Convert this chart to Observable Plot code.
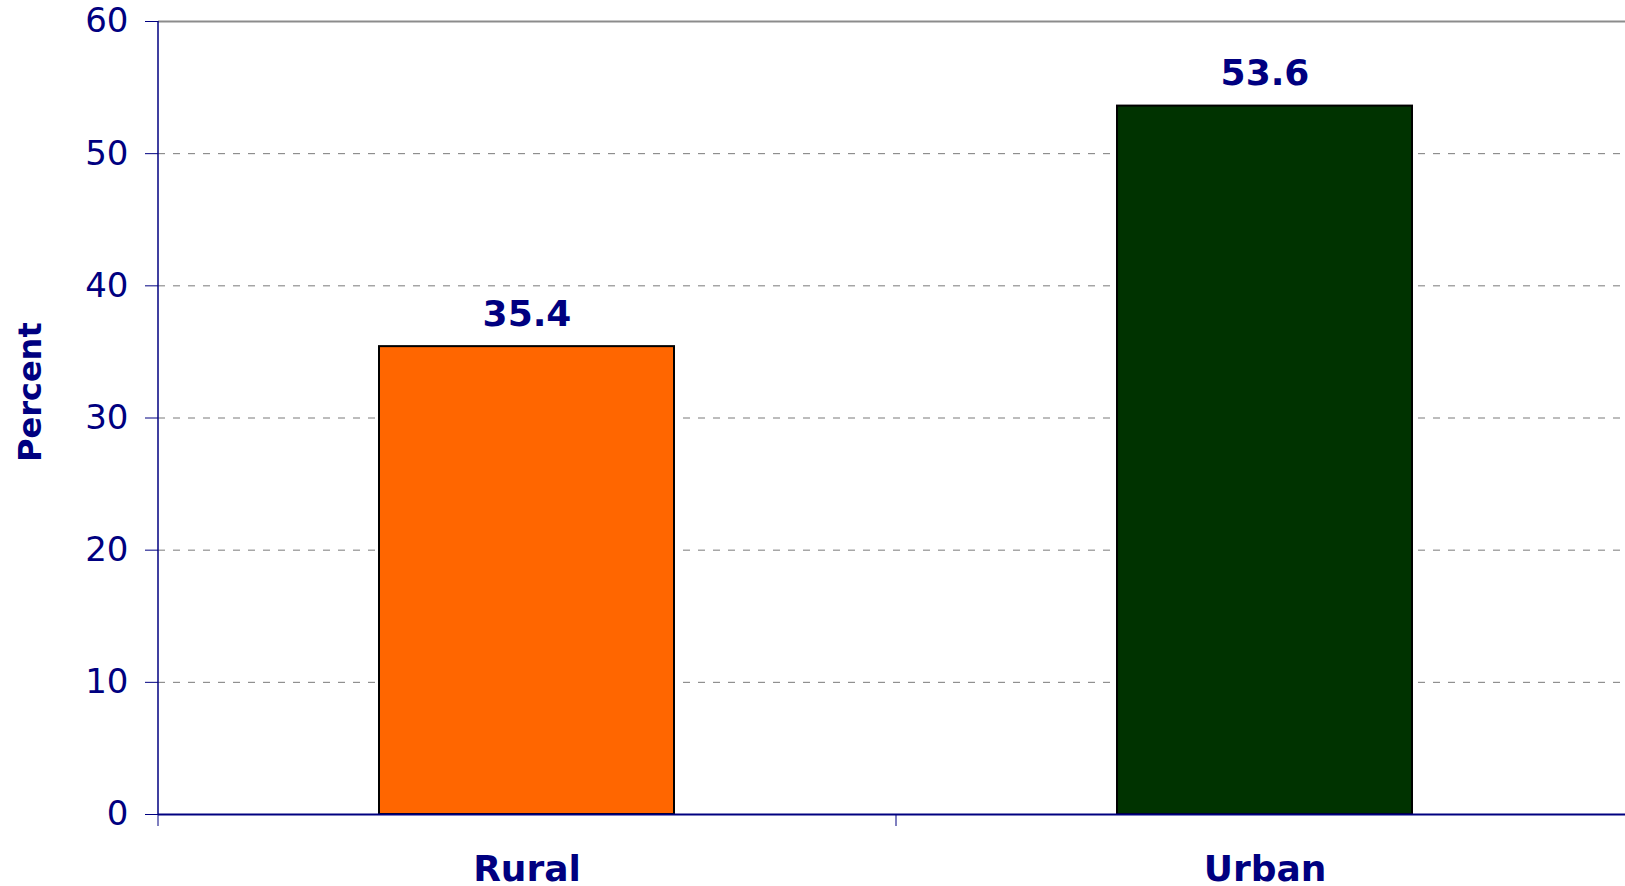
<!DOCTYPE html>
<html>
<head>
<meta charset="utf-8">
<script src="https://cdn.jsdelivr.net/npm/d3@7"></script>
<script src="https://cdn.jsdelivr.net/npm/@observablehq/plot@0.6"></script>
<style>
  html, body { margin: 0; padding: 0; background: #fff; overflow: hidden; }
  #chart svg { display: block; }
</style>
</head>
<body>
<div id="chart"></div>
<script>
const categories = ["Rural", "Urban"];
const values = [35.4, 53.6];
const barColors = ["#FF6600", "#003300"];
const yTicks = [0, 10, 20, 30, 40, 50, 60];
const gridTicks = [10, 20, 30, 40, 50];
const yLabel = "Percent";

const data = categories.map((c, i) => ({category: c, value: values[i], color: barColors[i]}));

const W = 1625, H = 886;
const left = 158, xEnd = 1634;
const halfStep = (xEnd - left) / categories.length / 2;
const navy = "#000080";
const font = "DejaVu Sans, Verdana, sans-serif";

const chart = Plot.plot({
  width: W,
  height: H,
  marginLeft: left,
  marginRight: 0,
  marginTop: 21,
  marginBottom: 72,
  style: {fontFamily: font, color: navy, background: "#fff"},
  x: {domain: categories, range: [left, xEnd], paddingInner: 0.6, paddingOuter: 0.3, label: null},
  y: {domain: [0, 60], ticks: yTicks, label: null},
  marks: [
    Plot.ruleY(gridTicks, {stroke: "#7a7a7a", strokeWidth: 1, strokeDasharray: "7,8"}),
    Plot.ruleY([60], {stroke: "#8c8c8c", strokeWidth: 2}),
    Plot.barY(data, {x: "category", y: "value", fill: "color", stroke: "#000", strokeWidth: 2}),
    Plot.ruleY([0], {stroke: navy, strokeWidth: 2}),
    Plot.axisY({ticks: yTicks, tickSize: 13, tickPadding: 17, fontSize: 34, stroke: navy, fill: navy, label: null}),
    Plot.ruleX([0], {x: () => categories[0], dx: -halfStep, y1: 0, y2: 60, stroke: navy, strokeWidth: 1.5}),
    Plot.axisX({tickSize: 12, tickFormat: () => "", dx: -halfStep, stroke: navy, label: null}),
    Plot.axisX({tickSize: 0, tickPadding: 41, fontSize: 36, fontWeight: "bold", fill: navy, label: null}),
    Plot.text(data, {x: "category", y: "value", text: d => d.value.toFixed(1), dy: -21, lineAnchor: "bottom", fontSize: 36, fontWeight: "bold", fill: navy}),
    Plot.text([yLabel], {frameAnchor: "left", rotate: -90, dx: -128, dy: 44, fontSize: 32, fontWeight: "bold", fill: navy})
  ]
});
document.getElementById("chart").appendChild(chart);
</script>
</body>
</html>
